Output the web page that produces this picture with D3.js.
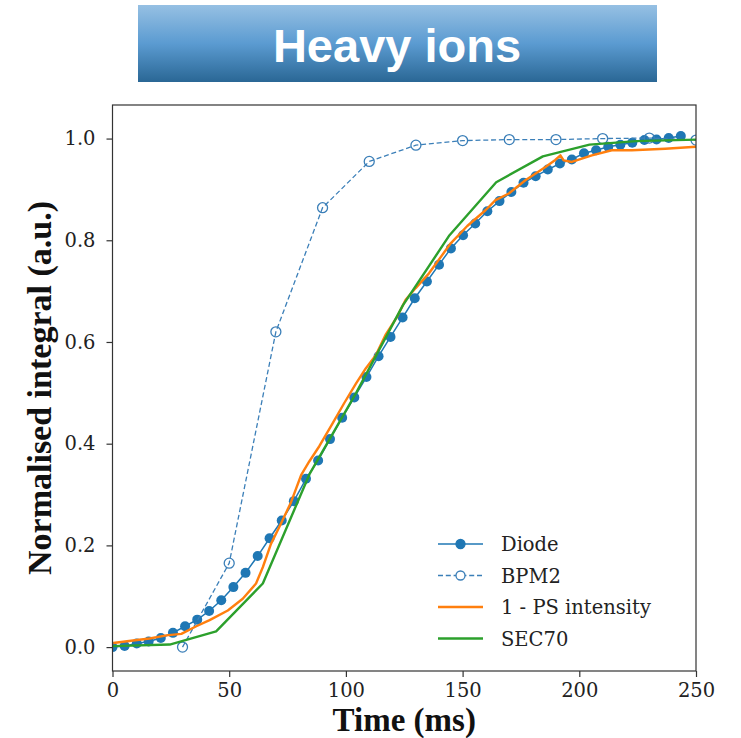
<!DOCTYPE html>
<html>
<head>
<meta charset="utf-8">
<script src="https://cdn.jsdelivr.net/npm/d3@7"></script>
<style>
  body { margin: 0; background: #fff; }
  svg { display: block; }
</style>
</head>
<body>
<svg id="chart" width="741" height="738"></svg>
<script>
// data
var diodeTime = [0, 5.2, 10.4, 15.5, 20.7, 25.9, 31.1, 36.3, 41.4, 46.6, 51.8, 57, 62.2, 67.3, 72.5, 77.7,
  82.9, 88.1, 93.2, 98.4, 103.6, 108.8, 114, 119.1, 124.3, 129.5, 134.7, 139.9, 145, 150.2, 155.4, 160.6,
  165.8, 170.9, 176.1, 181.3, 186.5, 191.7, 196.8, 202, 207.2, 212.4, 217.6, 222.7, 227.9, 233.1, 238.3, 243.5];
var diodeValue = [0.000, 0.002, 0.007, 0.011, 0.018, 0.028, 0.041, 0.054, 0.071, 0.092, 0.118, 0.146, 0.179,
  0.214, 0.249, 0.287, 0.331, 0.367, 0.409, 0.451, 0.491, 0.531, 0.572, 0.610, 0.648, 0.686, 0.719, 0.752,
  0.784, 0.810, 0.833, 0.857, 0.877, 0.895, 0.913, 0.926, 0.939, 0.951, 0.959, 0.971, 0.977, 0.984, 0.988,
  0.992, 0.997, 0.998, 1.001, 1.005];

var bpmTime = [30, 50, 70, 90, 110, 130, 150, 170, 190, 210, 230, 250];
var bpmValue = [0.0, 0.165, 0.620, 0.864, 0.955, 0.987, 0.996, 0.998, 0.998, 1.0, 1.001, 0.997];

var psTime = [0.3, 8.8, 15.9, 23.1, 29.5, 35.9, 41.6, 49.4, 55.8, 61.5, 64.4, 67.9, 72.2, 76.5, 80.8, 84.3,
  88.6, 94.3, 99.3, 104.3, 108.5, 112.8, 117.1, 122, 125.6, 129.9, 135.6, 144.9, 152, 159.8, 164.1, 169.8,
  176.9, 185.5, 189.7, 191.9, 193.3, 196.8, 205.4, 213.9, 222.5, 236.8, 250];
var psValue = [0.008, 0.013, 0.017, 0.023, 0.026, 0.041, 0.053, 0.072, 0.095, 0.125, 0.157, 0.203, 0.243,
  0.285, 0.338, 0.365, 0.395, 0.440, 0.480, 0.518, 0.548, 0.574, 0.615, 0.650, 0.683, 0.706, 0.735, 0.794,
  0.828, 0.859, 0.879, 0.892, 0.918, 0.944, 0.958, 0.967, 0.957, 0.954, 0.967, 0.977, 0.977, 0.980, 0.984];

var secTime = [0, 24.5, 44.4, 64.4, 84.4, 104.4, 124.4, 144.4, 164.4, 184.4, 204.4, 224.4, 250];
var secValue = [0.002, 0.005, 0.031, 0.125, 0.340, 0.500, 0.672, 0.810, 0.914, 0.965, 0.988, 0.995, 0.998];

var xTicks = [0, 50, 100, 150, 200, 250];
var yTicks = [0.0, 0.2, 0.4, 0.6, 0.8, 1.0];
var legendLabels = ["Diode", "BPM2", "1 - PS intensity", "SEC70"];

var svg = d3.select("#chart");

// title banner
var defs = svg.append("defs");
var grad = defs.append("linearGradient")
  .attr("id", "banner")
  .attr("x1", 0).attr("y1", 0).attr("x2", 0).attr("y2", 1);
grad.append("stop").attr("offset", "0%").attr("stop-color", "#96c0e3");
grad.append("stop").attr("offset", "50%").attr("stop-color", "#5b9bd1");
grad.append("stop").attr("offset", "100%").attr("stop-color", "#2a6795");

svg.append("rect")
  .attr("x", 138).attr("y", 5)
  .attr("width", 519).attr("height", 77)
  .attr("fill", "url(#banner)");
svg.append("text")
  .attr("x", 397).attr("y", 62)
  .attr("text-anchor", "middle")
  .attr("font-family", "Liberation Sans, Arial, sans-serif")
  .attr("font-weight", "bold")
  .attr("font-size", 47)
  .attr("fill", "#fff")
  .text("Heavy ions");

// plot area
var plotLeft = 112.5, plotRight = 696, plotTop = 105, plotBottom = 671;

var x = d3.scaleLinear().domain([0, 250]).range([plotLeft, plotRight]);
var y = d3.scaleLinear().domain([-0.047, 1.066]).range([plotBottom, plotTop]);

var tickFont = "DejaVu Serif, serif";

var xAxis = svg.append("g")
  .attr("transform", "translate(0," + plotBottom + ")")
  .call(d3.axisBottom(x).tickValues(xTicks).tickFormat(d3.format("d")).tickSize(6).tickPadding(6));
var yAxis = svg.append("g")
  .attr("transform", "translate(" + plotLeft + ",0)")
  .call(d3.axisLeft(y).tickValues(yTicks).tickFormat(d3.format(".1f")).tickSize(6).tickPadding(11));

[xAxis, yAxis].forEach(function (a) {
  a.select(".domain").remove();
  a.selectAll("line").attr("stroke", "#333").attr("stroke-width", 1.2);
  a.selectAll("text")
    .attr("font-family", tickFont)
    .attr("font-size", 19.5)
    .attr("fill", "#222");
});

// lines
var diode = diodeTime.map((t, i) => ({ t: t, v: diodeValue[i] }));
var bpm = bpmTime.map((t, i) => ({ t: t, v: bpmValue[i] }));
var ps = psTime.map((t, i) => ({ t: t, v: psValue[i] }));
var sec = secTime.map((t, i) => ({ t: t, v: secValue[i] }));

var line = d3.line().x((d) => x(d.t)).y((d) => y(d.v));

defs.append("clipPath").attr("id", "plotclip")
  .append("rect")
  .attr("x", plotLeft).attr("y", plotTop)
  .attr("width", plotRight - plotLeft).attr("height", plotBottom - plotTop);

var plot = svg.append("g").attr("clip-path", "url(#plotclip)");

plot.append("path")
  .datum(diode)
  .attr("d", line)
  .attr("fill", "none")
  .attr("stroke", "#1f77b4")
  .attr("stroke-width", 1.5);
plot.append("g")
  .selectAll("circle")
  .data(diode)
  .enter()
  .append("circle")
  .attr("cx", (d) => x(d.t))
  .attr("cy", (d) => y(d.v))
  .attr("r", 5)
  .attr("fill", "#1f77b4");

plot.append("path")
  .datum(bpm)
  .attr("d", line)
  .attr("fill", "none")
  .attr("stroke", "#3b7fb8")
  .attr("stroke-width", 1.3)
  .attr("stroke-dasharray", "5,2.8");
plot.append("g")
  .selectAll("circle")
  .data(bpm)
  .enter()
  .append("circle")
  .attr("cx", (d) => x(d.t))
  .attr("cy", (d) => y(d.v))
  .attr("r", 5)
  .attr("fill", "none")
  .attr("stroke", "#3b7fb8")
  .attr("stroke-width", 1.3);

plot.append("path")
  .datum(ps)
  .attr("d", line)
  .attr("fill", "none")
  .attr("stroke", "#ff7f0e")
  .attr("stroke-width", 2.4)
  .attr("stroke-linejoin", "round");

plot.append("path")
  .datum(sec)
  .attr("d", line)
  .attr("fill", "none")
  .attr("stroke", "#2ca02c")
  .attr("stroke-width", 2.4)
  .attr("stroke-linejoin", "round");

// frame
svg.append("rect")
  .attr("x", plotLeft).attr("y", plotTop)
  .attr("width", plotRight - plotLeft).attr("height", plotBottom - plotTop)
  .attr("fill", "none")
  .attr("stroke", "#333")
  .attr("stroke-width", 1.2);

// axis labels
svg.append("text")
  .attr("x", (plotLeft + plotRight) / 2).attr("y", 731)
  .attr("text-anchor", "middle")
  .attr("font-family", "Liberation Serif, Times New Roman, serif")
  .attr("font-weight", "bold")
  .attr("font-size", 33)
  .attr("fill", "#111")
  .text("Time (ms)");
svg.append("text")
  .attr("transform", "translate(51," + (plotTop + plotBottom) / 2 + ") rotate(-90)")
  .attr("text-anchor", "middle")
  .attr("font-family", "Liberation Serif, Times New Roman, serif")
  .attr("font-weight", "bold")
  .attr("font-size", 34)
  .attr("fill", "#111")
  .text("Normalised integral (a.u.)");

// legend
var legendColors = ["#1f77b4", "#3b7fb8", "#ff7f0e", "#2ca02c"];
var legend = svg.append("g").attr("transform", "translate(438,544)");
var rows = legend.selectAll("g")
  .data(legendLabels)
  .enter()
  .append("g")
  .attr("transform", (d, i) => "translate(0," + i * 31.5 + ")");

rows.append("line")
  .attr("x1", 0).attr("x2", 45)
  .attr("stroke", (d, i) => legendColors[i])
  .attr("stroke-width", (d, i) => i < 2 ? 1.4 : 2.6)
  .attr("stroke-dasharray", (d, i) => i == 1 ? "5,2.8" : null);
rows.filter((d, i) => i < 2)
  .append("circle")
  .attr("cx", 22.5).attr("cy", 0)
  .attr("r", 4.5)
  .attr("fill", (d, i) => i == 0 ? "#1f77b4" : "#fff")
  .attr("stroke", (d, i) => legendColors[i])
  .attr("stroke-width", 1.3);
rows.append("text")
  .attr("x", 63).attr("y", 7)
  .attr("font-family", tickFont)
  .attr("font-size", 19.5)
  .attr("fill", "#222")
  .text((d) => d);
</script>
</body>
</html>
